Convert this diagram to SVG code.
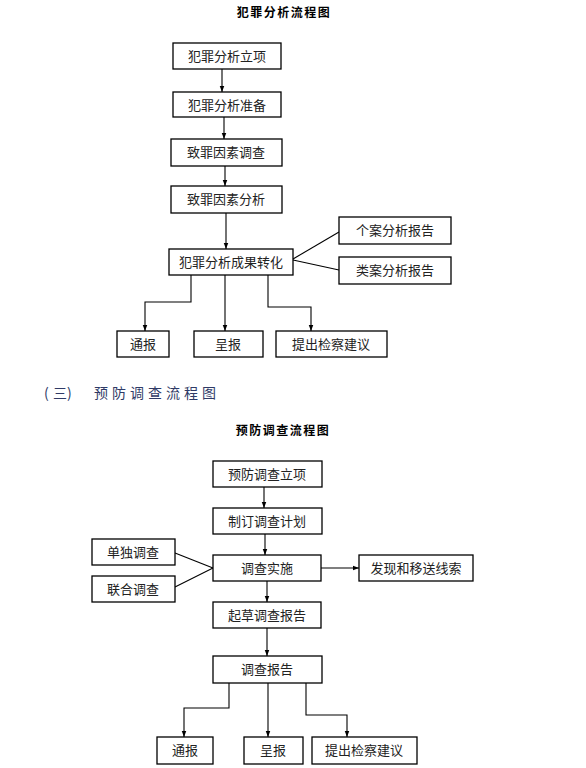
<svg xmlns="http://www.w3.org/2000/svg" width="586" height="768" viewBox="0 0 586 768">
<defs>
<marker id="ah" viewBox="0 0 8 8" refX="8" refY="4" markerWidth="6" markerHeight="6" markerUnits="userSpaceOnUse" orient="auto">
<path d="M0,1 L8,4 L0,7 Z" fill="#000"/>
</marker>
<style>
.box{fill:#fff;stroke:#000;stroke-width:1.3}
.t{font-family:"Noto Sans CJK SC","Noto Sans CJK JP",sans-serif;font-size:13px;fill:#222;text-anchor:middle}
.title{font-family:"Noto Sans CJK SC",sans-serif;font-size:12px;font-weight:bold;fill:#000;text-anchor:middle;letter-spacing:1.5px}
.h{font-family:"Noto Sans CJK SC",sans-serif;font-size:14px;fill:#2f3a66}
.c{fill:none;stroke:#000;stroke-width:1.1}
.a{marker-end:url(#ah)}
</style>
</defs>
<rect width="586" height="768" fill="#fff"/>

<text class="title" x="284" y="17">犯罪分析流程图</text>
<text class="h" x="44 53 67 94 112 130 148 166 184 202" y="398">(三)预防调查流程图</text>
<text class="title" x="283" y="435">预防调查流程图</text>

<g id="connectors">
<path class="c a" d="M222,69 V92"/>
<path class="c a" d="M224,117 V139"/>
<path class="c a" d="M225,166 V186"/>
<path class="c a" d="M226,213 V249"/>
<path class="c" d="M293,259 L339,232"/>
<path class="c" d="M293,260 L339,270"/>
<path class="c a" d="M191,275 V302 H145 V331"/>
<path class="c a" d="M225,275 V331"/>
<path class="c a" d="M268,275 V307 H311 V331"/>

<path class="c a" d="M264,487 V508"/>
<path class="c a" d="M265,534 V555"/>
<path class="c" d="M175,553 L213,568"/>
<path class="c" d="M175,587 L213,568"/>
<path class="c a" d="M321,568 H359"/>
<path class="c a" d="M267,581 V602"/>
<path class="c a" d="M267,628 V656"/>
<path class="c a" d="M229,683 V708 H184 V737"/>
<path class="c a" d="M268,683 V737"/>
<path class="c a" d="M306,683 V715 H347 V737"/>
</g>

<g id="n1"><rect class="box" x="173" y="43" width="108" height="26"/><text class="t" x="227" y="61">犯罪分析立项</text></g>
<g id="n2"><rect class="box" x="173" y="92" width="108" height="25"/><text class="t" x="227" y="110">犯罪分析准备</text></g>
<g id="n3"><rect class="box" x="171" y="139" width="111" height="27"/><text class="t" x="226" y="157">致罪因素调查</text></g>
<g id="n4"><rect class="box" x="171" y="186" width="111" height="27"/><text class="t" x="226" y="204">致罪因素分析</text></g>
<g id="n5"><rect class="box" x="169" y="249" width="124" height="26"/><text class="t" x="231" y="267">犯罪分析成果转化</text></g>
<g id="n6"><rect class="box" x="339" y="217" width="112" height="27"/><text class="t" x="395" y="235">个案分析报告</text></g>
<g id="n7"><rect class="box" x="339" y="257" width="112" height="27"/><text class="t" x="395" y="275">类案分析报告</text></g>
<g id="n8"><rect class="box" x="117" y="331" width="52" height="26"/><text class="t" x="143" y="349">通报</text></g>
<g id="n9"><rect class="box" x="194" y="331" width="69" height="26"/><text class="t" x="228" y="349">呈报</text></g>
<g id="n10"><rect class="box" x="276" y="331" width="111" height="26"/><text class="t" x="331" y="349">提出检察建议</text></g>

<g id="m1"><rect class="box" x="213" y="461" width="109" height="26"/><text class="t" x="267" y="479">预防调查立项</text></g>
<g id="m2"><rect class="box" x="213" y="508" width="109" height="26"/><text class="t" x="267" y="526">制订调查计划</text></g>
<g id="m3"><rect class="box" x="213" y="555" width="108" height="26"/><text class="t" x="267" y="573">调查实施</text></g>
<g id="m4"><rect class="box" x="92" y="539" width="83" height="26"/><text class="t" x="133" y="557">单独调查</text></g>
<g id="m5"><rect class="box" x="92" y="576" width="83" height="26"/><text class="t" x="133" y="594">联合调查</text></g>
<g id="m6"><rect class="box" x="359" y="555" width="114" height="26"/><text class="t" x="416" y="573">发现和移送线索</text></g>
<g id="m7"><rect class="box" x="213" y="602" width="108" height="26"/><text class="t" x="267" y="620">起草调查报告</text></g>
<g id="m8"><rect class="box" x="213" y="656" width="109" height="27"/><text class="t" x="267" y="674">调查报告</text></g>
<g id="m9"><rect class="box" x="157" y="737" width="56" height="27"/><text class="t" x="185" y="755">通报</text></g>
<g id="m10"><rect class="box" x="244" y="737" width="59" height="27"/><text class="t" x="273" y="755">呈报</text></g>
<g id="m11"><rect class="box" x="312" y="737" width="105" height="27"/><text class="t" x="364" y="755">提出检察建议</text></g>
</svg>
